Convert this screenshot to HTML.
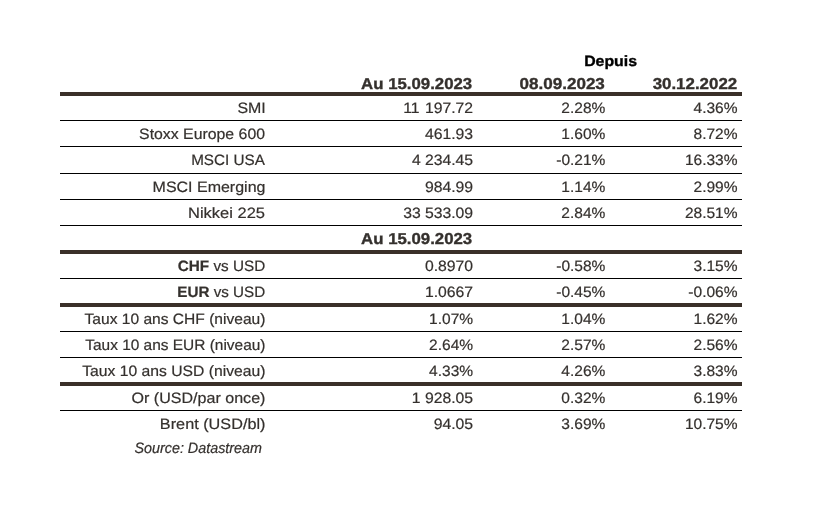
<!DOCTYPE html>
<html lang="fr"><head><meta charset="utf-8"><title>Marchés</title>
<style>
html,body{margin:0;padding:0;background:#fff;}
#c{position:relative;width:813px;height:512px;overflow:hidden;background:#fff;font-family:"Liberation Sans",Arial,sans-serif;}
.t{position:absolute;white-space:pre;line-height:20px;text-rendering:geometricPrecision;transform-origin:0 0;color:#34302d;-webkit-text-stroke:0.2px currentColor;}
.k{position:absolute;left:60px;width:682px;height:4px;background:#3a3029;}
.n{position:absolute;left:60px;width:682px;height:1px;background:#000;}
</style></head><body><div id="c">
<div class="k" style="top:92px"></div>
<div class="k" style="top:250px"></div>
<div class="k" style="top:303px"></div>
<div class="k" style="top:382px"></div>
<div class="n" style="top:120px"></div>
<div class="n" style="top:146px"></div>
<div class="n" style="top:173px"></div>
<div class="n" style="top:199px"></div>
<div class="n" style="top:225px"></div>
<div class="n" style="top:278px"></div>
<div class="n" style="top:331px"></div>
<div class="n" style="top:357px"></div>
<div class="n" style="top:410px"></div>
<span class="t" style="left:584px;top:52px;font-size:14.9px;transform:translateX(0.14px) scaleX(1.0650);color:#000;font-weight:bold;-webkit-text-stroke:0.35px currentColor;">Depuis</span>
<span class="t" style="left:361px;top:75px;font-size:15.8px;transform:translateX(0.09px) scaleX(1.0629);font-weight:bold;-webkit-text-stroke:0.35px currentColor;">Au 15.09.2023</span>
<span class="t" style="left:519px;top:75px;font-size:15.8px;transform:translateX(0.56px) scaleX(1.0787);font-weight:bold;-webkit-text-stroke:0.35px currentColor;">08.09.2023</span>
<span class="t" style="left:652px;top:75px;font-size:15.8px;transform:translateX(0.64px) scaleX(1.0693);font-weight:bold;-webkit-text-stroke:0.35px currentColor;">30.12.2022</span>
<span class="t" style="left:237px;top:99px;font-size:15px;transform:translateX(0.42px) scaleX(1.0636);">SMI</span>
<span class="t" style="left:139px;top:125px;font-size:15px;transform:translateX(0.09px) scaleX(1.0560);">Stoxx Europe 600</span>
<span class="t" style="left:191px;top:151px;font-size:15px;transform:translateX(0.15px) scaleX(1.0163);">MSCI USA</span>
<span class="t" style="left:152px;top:178px;font-size:15px;transform:translateX(0.57px) scaleX(1.0661);">MSCI Emerging</span>
<span class="t" style="left:188px;top:204px;font-size:15px;transform:translateX(0.04px) scaleX(1.0989);">Nikkei 225</span>
<span class="t" style="left:177px;top:257px;font-size:15px;transform:translateX(0.79px) scaleX(1.0190);"><b>CHF</b> vs USD</span>
<span class="t" style="left:177px;top:283px;font-size:15px;transform:translateX(0.29px) scaleX(1.0148);"><b>EUR</b> vs USD</span>
<span class="t" style="left:84px;top:310px;font-size:15px;transform:translateX(0.54px) scaleX(1.0382);">Taux 10 ans CHF (niveau)</span>
<span class="t" style="left:85px;top:336px;font-size:15px;transform:translateX(0.24px) scaleX(1.0292);">Taux 10 ans EUR (niveau)</span>
<span class="t" style="left:82px;top:362px;font-size:15px;transform:translateX(0.14px) scaleX(1.0469);">Taux 10 ans USD (niveau)</span>
<span class="t" style="left:131px;top:389px;font-size:15px;transform:translateX(0.57px) scaleX(1.0706);">Or (USD/par once)</span>
<span class="t" style="left:159px;top:415px;font-size:15px;transform:translateX(0.87px) scaleX(1.0825);">Brent (USD/bl)</span>
<span class="t" style="left:361px;top:230px;font-size:15.8px;transform:translateX(0.09px) scaleX(1.0629);font-weight:bold;-webkit-text-stroke:0.35px currentColor;">Au 15.09.2023</span>
<span class="t" style="left:134px;top:439px;font-size:15px;transform:translateX(0.41px) scaleX(0.9567);font-style:italic;">Source: Datastream</span>
<span class="t" style="left:403px;top:99px;font-size:15px;transform:translateX(0.24px) scaleX(1.0500);word-spacing:0.90px;">11 197.72</span>
<span class="t" style="left:561px;top:99px;font-size:15px;transform:translateX(0.36px) scaleX(1.0350);">2.28%</span>
<span class="t" style="left:693px;top:99px;font-size:15px;transform:translateX(0.51px) scaleX(1.0350);">4.36%</span>
<span class="t" style="left:424px;top:125px;font-size:15px;transform:translateX(0.91px) scaleX(1.0500);">461.93</span>
<span class="t" style="left:561px;top:125px;font-size:15px;transform:translateX(0.36px) scaleX(1.0350);">1.60%</span>
<span class="t" style="left:693px;top:125px;font-size:15px;transform:translateX(0.51px) scaleX(1.0350);">8.72%</span>
<span class="t" style="left:411px;top:151px;font-size:15px;transform:translateX(0.99px) scaleX(1.0500);word-spacing:-0.20px;">4 234.45</span>
<span class="t" style="left:556px;top:151px;font-size:15px;transform:translateX(0.21px) scaleX(1.0350);">-0.21%</span>
<span class="t" style="left:684px;top:151px;font-size:15px;transform:translateX(0.89px) scaleX(1.0350);">16.33%</span>
<span class="t" style="left:424px;top:178px;font-size:15px;transform:translateX(0.91px) scaleX(1.0500);">984.99</span>
<span class="t" style="left:561px;top:178px;font-size:15px;transform:translateX(0.36px) scaleX(1.0350);">1.14%</span>
<span class="t" style="left:693px;top:178px;font-size:15px;transform:translateX(0.51px) scaleX(1.0350);">2.99%</span>
<span class="t" style="left:403px;top:204px;font-size:15px;transform:translateX(0.24px) scaleX(1.0500);word-spacing:-0.20px;">33 533.09</span>
<span class="t" style="left:561px;top:204px;font-size:15px;transform:translateX(0.36px) scaleX(1.0350);">2.84%</span>
<span class="t" style="left:684px;top:204px;font-size:15px;transform:translateX(0.89px) scaleX(1.0350);">28.51%</span>
<span class="t" style="left:424px;top:257px;font-size:15px;transform:translateX(0.91px) scaleX(1.0500);">0.8970</span>
<span class="t" style="left:556px;top:257px;font-size:15px;transform:translateX(0.21px) scaleX(1.0350);">-0.58%</span>
<span class="t" style="left:693px;top:257px;font-size:15px;transform:translateX(0.51px) scaleX(1.0350);">3.15%</span>
<span class="t" style="left:424px;top:283px;font-size:15px;transform:translateX(0.91px) scaleX(1.0500);">1.0667</span>
<span class="t" style="left:556px;top:283px;font-size:15px;transform:translateX(0.21px) scaleX(1.0350);">-0.45%</span>
<span class="t" style="left:688px;top:283px;font-size:15px;transform:translateX(0.36px) scaleX(1.0350);">-0.06%</span>
<span class="t" style="left:429px;top:310px;font-size:15px;transform:translateX(0.06px) scaleX(1.0350);">1.07%</span>
<span class="t" style="left:561px;top:310px;font-size:15px;transform:translateX(0.36px) scaleX(1.0350);">1.04%</span>
<span class="t" style="left:693px;top:310px;font-size:15px;transform:translateX(0.51px) scaleX(1.0350);">1.62%</span>
<span class="t" style="left:429px;top:336px;font-size:15px;transform:translateX(0.06px) scaleX(1.0350);">2.64%</span>
<span class="t" style="left:561px;top:336px;font-size:15px;transform:translateX(0.36px) scaleX(1.0350);">2.57%</span>
<span class="t" style="left:693px;top:336px;font-size:15px;transform:translateX(0.51px) scaleX(1.0350);">2.56%</span>
<span class="t" style="left:429px;top:362px;font-size:15px;transform:translateX(0.06px) scaleX(1.0350);">4.33%</span>
<span class="t" style="left:561px;top:362px;font-size:15px;transform:translateX(0.36px) scaleX(1.0350);">4.26%</span>
<span class="t" style="left:693px;top:362px;font-size:15px;transform:translateX(0.51px) scaleX(1.0350);">3.83%</span>
<span class="t" style="left:411px;top:389px;font-size:15px;transform:translateX(0.79px) scaleX(1.0500);">1 928.05</span>
<span class="t" style="left:561px;top:389px;font-size:15px;transform:translateX(0.36px) scaleX(1.0350);">0.32%</span>
<span class="t" style="left:693px;top:389px;font-size:15px;transform:translateX(0.51px) scaleX(1.0350);">6.19%</span>
<span class="t" style="left:433px;top:415px;font-size:15px;transform:translateX(0.68px) scaleX(1.0500);">94.05</span>
<span class="t" style="left:561px;top:415px;font-size:15px;transform:translateX(0.36px) scaleX(1.0350);">3.69%</span>
<span class="t" style="left:684px;top:415px;font-size:15px;transform:translateX(0.89px) scaleX(1.0350);">10.75%</span>
</div></body></html>
